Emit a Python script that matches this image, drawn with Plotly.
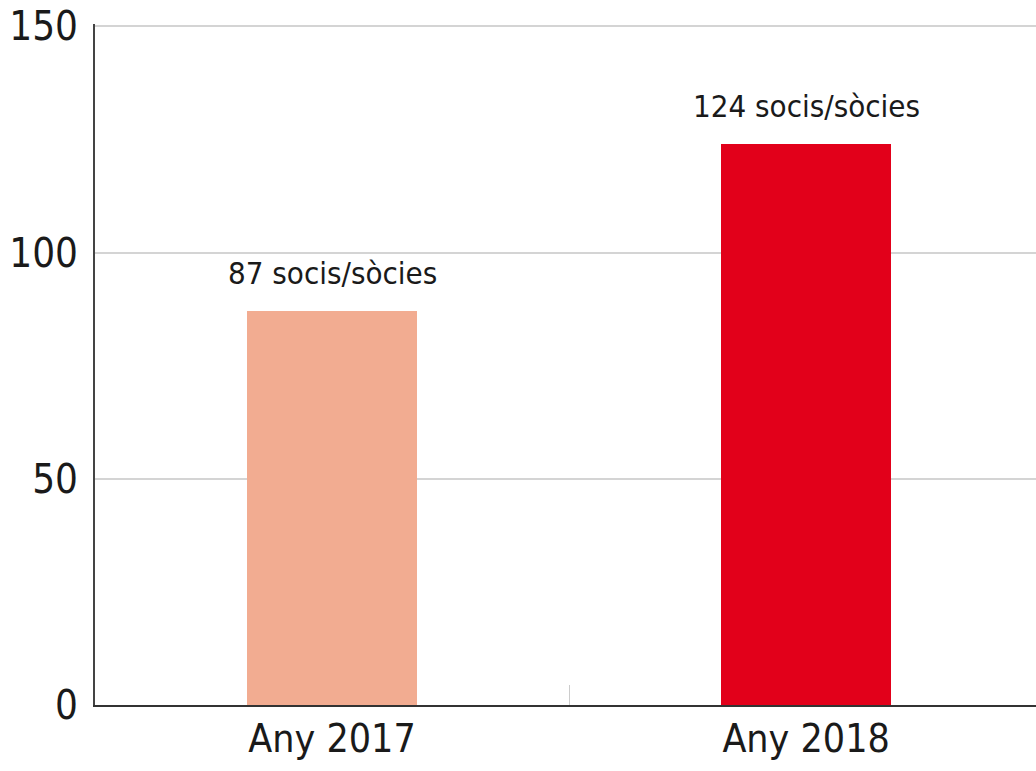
import plotly.graph_objects as go

categories = ["Any 2017", "Any 2018"]
values = [87, 124]
labels = ["87 socis/sòcies", "124 socis/sòcies"]
colors = ["#F2AC91", "#E2001A"]
y_ticks = [0, 50, 100, 150]

FONT = "DejaVu Sans Condensed, Liberation Sans Narrow, Liberation Sans, sans-serif"

fig = go.Figure()
fig.add_trace(go.Bar(
    x=categories, y=values, marker=dict(color=colors, line=dict(width=0)),
    width=0.36, hoverinfo="skip",
))

for c, v, t in zip(categories, values, labels):
    fig.add_annotation(x=c, y=v, text=t, showarrow=False, yanchor="bottom",
                       yshift=18, font=dict(family=FONT, size=31, color="#1a1a1a"))

fig.update_layout(
    width=1036, height=771,
    margin=dict(l=95, r=0, t=24, b=66, autoexpand=False),
    paper_bgcolor="white", plot_bgcolor="white",
    showlegend=False,
    font=dict(family=FONT, color="#1a1a1a"),
    xaxis=dict(
        range=[-0.5, 1.485], showline=True, linecolor="#333333", linewidth=2,
        tickson="boundaries", ticks="inside", ticklen=20, tickcolor="#cccccc", tickwidth=1,
        tickfont=dict(family=FONT, size=39, color="#1a1a1a"),
        showgrid=False, zeroline=False, automargin=False, ticklabelstandoff=-2,
    ),
    yaxis=dict(
        range=[0, 150.5], tickvals=y_ticks, showline=True, linecolor="#444444", linewidth=2,
        showgrid=True, gridcolor="#d4d4d4", gridwidth=1.5, zeroline=False,
        ticks="", ticklabelstandoff=7, automargin=False, ticklabeloverflow="allow",
        tickfont=dict(family=FONT, size=40, color="#1a1a1a"),
    ),
    bargap=0,
)

fig.write_html(
    "out.html",
    config={"displayModeBar": False},
    post_script="document.body.style.margin='0';document.body.style.overflow='hidden';",
)
